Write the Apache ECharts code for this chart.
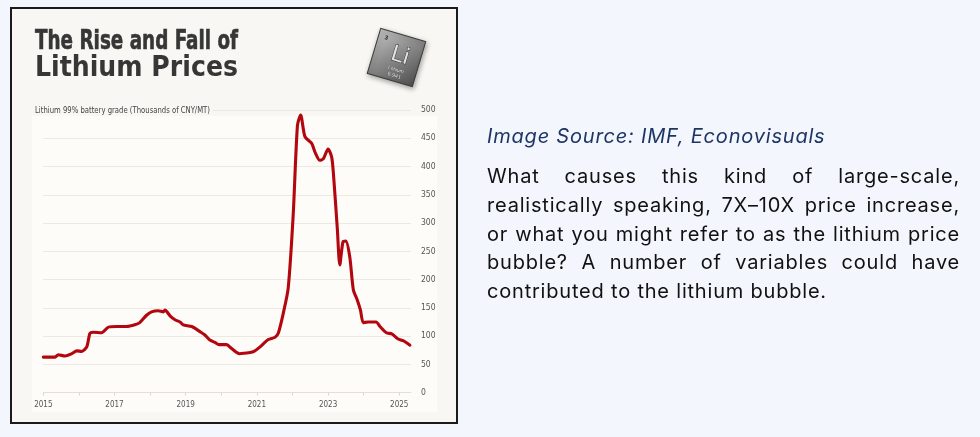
<!DOCTYPE html>
<html>
<head>
<meta charset="utf-8">
<script src="https://cdn.jsdelivr.net/npm/echarts@6/dist/echarts.min.js"></script>
<style>
  html, body { margin: 0; padding: 0; background: #f3f6fd; }
  #chart { position: absolute; left: 0; top: 0; width: 980px; height: 437px; }
  .side { position: absolute; left: 487px; width: 473px; font-family: Inter, 'Noto Sans', sans-serif; letter-spacing: 0.8px; }
  #source { top: 125px; font-size: 20px; line-height: 23px; font-style: italic; color: #1d3564; }
  #para { top: 162px; font-size: 20px; line-height: 28.8px; color: #111; }
  #para div { white-space: nowrap; text-align: justify; text-align-last: justify; }
  #para div.last { text-align-last: left; }
</style>
</head>
<body>
<div id="chart"></div>
<div class="side" id="source">Image Source: IMF, Econovisuals</div>
<div class="side" id="para">
  <div>What causes this kind of large-scale,</div>
  <div>realistically speaking, 7X–10X price increase,</div>
  <div>or what you might refer to as the lithium price</div>
  <div>bubble? A number of variables could have</div>
  <div class="last">contributed to the lithium bubble.</div>
</div>
<script>
// price of lithium 99% battery grade, thousands of CNY per tonne
const years = [
  2015.00, 2015.33, 2015.42, 2015.61, 2015.80, 2015.94, 2016.08, 2016.22, 2016.31, 2016.40,
  2016.64, 2016.83, 2017.06, 2017.34, 2017.57, 2017.71, 2017.90, 2018.04, 2018.23, 2018.37,
  2018.42, 2018.56, 2018.70, 2018.84, 2018.93, 2019.17, 2019.40, 2019.54, 2019.68, 2019.82,
  2019.94, 2020.15, 2020.29, 2020.51, 2020.81, 2020.92, 2021.09, 2021.32, 2021.51, 2021.60,
  2021.74, 2021.88, 2022.02, 2022.14, 2022.23, 2022.35, 2022.54, 2022.63, 2022.77, 2022.87,
  2023.00, 2023.10, 2023.15, 2023.26, 2023.33, 2023.42, 2023.50, 2023.61, 2023.71, 2023.82,
  2023.91, 2023.99, 2024.13, 2024.35, 2024.46, 2024.64, 2024.79, 2024.97, 2025.11, 2025.30
];
const prices = [
  63, 63, 67, 65, 69, 74, 73, 81, 105, 107,
  106, 116, 117, 117, 120, 124, 137, 143, 145, 143,
  146, 136, 129, 125, 120, 117, 108, 102, 93, 89,
  85, 85, 78, 69, 71, 73, 81, 94, 98, 105,
  140, 185, 314, 473, 491, 453, 441, 426, 411, 414,
  431, 417, 388, 290, 226, 267, 268, 240, 182, 164,
  146, 124, 125, 125, 117, 106, 104, 95, 92, 84
];
const xTickYears = [2015, 2016, 2017, 2018, 2019, 2020, 2021, 2022, 2023, 2024, 2025];
const xLabelYears = [2015, 2017, 2019, 2021, 2023, 2025];

const chart = echarts.init(document.getElementById('chart'), null, { renderer: 'canvas' });

// squeeze a text horizontally so it spans the given width
const ctx = document.createElement('canvas').getContext('2d');
function fitScale(text, font, width) {
  ctx.font = font;
  return width / ctx.measureText(text).width;
}

const condFont = "'DejaVu Sans Condensed', 'Liberation Sans Narrow', sans-serif";
const t1 = 'The Rise and Fall of';
const t2 = 'Lithium Prices';
const sub = 'Lithium 99% battery grade (Thousands of CNY/MT)';
const s1 = fitScale(t1, 'bold 27px ' + condFont, 203);
const s2 = fitScale(t2, "bold 28px 'DejaVu Sans', sans-serif", 203);
const s3 = fitScale(sub, '8px ' + condFont, 175);

const panelBg = '#f8f7f3';
const plotBg = '#fefcf8';

const option = {
  backgroundColor: 'transparent',
  animation: false,
  grid: { left: 43.3, right: 569, top: 110, bottom: 44.3 },
  xAxis: {
    type: 'value',
    min: 2015,
    max: 2025.33,
    interval: 1,
    axisLine: { show: true, lineStyle: { color: '#e4e0d8', width: 1 } },
    axisTick: { show: true, length: 3, customValues: xTickYears, lineStyle: { color: '#dcd8d0' } },
    axisLabel: {
      customValues: xLabelYears,
      color: '#555',
      fontSize: 8,
      fontFamily: condFont,
      margin: 8,
      formatter: v => String(v)
    },
    splitLine: { show: false }
  },
  yAxis: {
    type: 'value',
    position: 'right',
    min: 0,
    max: 500,
    interval: 50,
    axisLine: { show: false },
    axisTick: { show: false },
    axisLabel: { color: '#555', fontSize: 8.5, fontFamily: condFont, margin: 10 },
    splitLine: { lineStyle: { color: '#ece9e2', width: 1 } }
  },
  series: [{
    type: 'line',
    data: years.map((y, i) => [y, prices[i]]),
    showSymbol: false,
    smooth: 0.25,
    lineStyle: { color: '#b3070f', width: 3.1, cap: 'round', join: 'round' },
    z: 5
  }],
  graphic: [
    {
      type: 'rect', z: -20, silent: true,
      shape: { x: 11, y: 8, width: 446, height: 415 },
      style: { fill: panelBg, stroke: '#1b1b1b', lineWidth: 2 }
    },
    {
      type: 'rect', z: -19, silent: true,
      shape: { x: 32, y: 116, width: 405, height: 296 },
      style: { fill: plotBg }
    },
    {
      type: 'text', z: 10, x: 35, y: 41.5, scaleX: s1,
      style: { text: t1, font: 'bold 27px ' + condFont, fill: '#363636', stroke: '#363636', lineWidth: 0.6, verticalAlign: 'middle' }
    },
    {
      type: 'text', z: 10, x: 35, y: 68.5, scaleX: s2,
      style: { text: t2, font: "bold 28px 'DejaVu Sans', sans-serif", fill: '#363636', verticalAlign: 'middle' }
    },
    {
      type: 'rect', z: 9, silent: true,
      shape: { x: 33, y: 104, width: 180, height: 12 },
      style: { fill: panelBg }
    },
    {
      type: 'text', z: 10, x: 35, y: 110.5, scaleX: s3,
      style: { text: sub, font: '8px ' + condFont, fill: '#444', verticalAlign: 'middle' }
    },
    {
      // element tile
      type: 'group', x: 396.5, y: 57.5, rotation: -0.29, z: 10,
      children: [
        {
          type: 'rect',
          shape: { x: -23.5, y: -23.5, width: 47, height: 47 },
          style: {
            fill: new echarts.graphic.LinearGradient(0, 0, 1, 1, [
              { offset: 0, color: '#c4c4c4' },
              { offset: 0.45, color: '#8c8c8c' },
              { offset: 1, color: '#4e4e4e' }
            ]),
            stroke: '#3a3a3a', lineWidth: 1,
            shadowBlur: 5, shadowColor: 'rgba(0,0,0,0.35)', shadowOffsetX: 1, shadowOffsetY: 2
          }
        },
        { type: 'text', x: -17, y: -16, style: { text: '3', font: 'bold 6px sans-serif', fill: '#1e1e1e', verticalAlign: 'middle' } },
        {
          type: 'text', x: 3, y: -2,
          style: { text: 'Li', font: "22px 'DejaVu Sans', sans-serif", fill: '#e2e2e2', stroke: '#2a2a2a', lineWidth: 0.9, align: 'center', verticalAlign: 'middle' }
        },
        { type: 'text', x: 3, y: 12, style: { text: 'Lithium', font: '5px sans-serif', fill: '#e0e0e0', stroke: '#444', lineWidth: 0.3, align: 'center', verticalAlign: 'middle' } },
        { type: 'text', x: 3, y: 18, style: { text: '6.941', font: '5.5px sans-serif', fill: '#e0e0e0', stroke: '#444', lineWidth: 0.3, align: 'center', verticalAlign: 'middle' } }
      ]
    }
  ]
};

chart.setOption(option);
</script>
</body>
</html>
